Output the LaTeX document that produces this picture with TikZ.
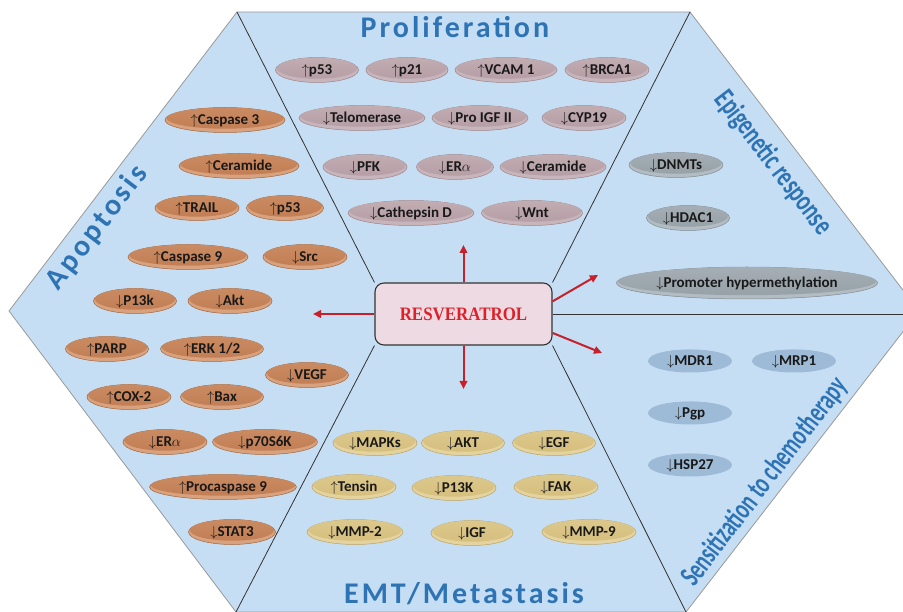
\documentclass[tikz,border=0pt]{standalone}
\usepackage{fontspec}
\usepackage{graphicx}
\setmainfont{Carlito}
\newfontfamily\titlefont[LetterSpace=10]{Carlito}
\newfontfamily\condfont[FakeStretch=0.7]{Carlito}
\newfontfamily\condfontb[FakeStretch=0.67]{Carlito}
\newfontfamily\resfont{Liberation Serif}
\usetikzlibrary{arrows.meta,shapes.geometric,calc,backgrounds}
\definecolor{hexblue}{HTML}{C6DEF3}
\definecolor{titleblue}{HTML}{2E74B5}
\definecolor{resred}{HTML}{E02028}
\definecolor{arrred}{HTML}{C8202A}
\definecolor{resfill}{HTML}{EDDAE3}
% proliferation
\definecolor{prolM}{HTML}{B59EA5}
\definecolor{prolT}{HTML}{C2ADB3}
\definecolor{prolL}{HTML}{C8B5BB}
\definecolor{prolD}{HTML}{9C848B}
% apoptosis
\definecolor{apoM}{HTML}{C27E54}
\definecolor{apoT}{HTML}{CA8B62}
\definecolor{apoL}{HTML}{D9A27E}
\definecolor{apoD}{HTML}{A3663E}
% emt
\definecolor{emtM}{HTML}{D6BF7E}
\definecolor{emtT}{HTML}{DCC88C}
\definecolor{emtL}{HTML}{E4D39E}
\definecolor{emtD}{HTML}{BBA363}
% epigenetic
\definecolor{epiM}{HTML}{97A1A8}
\definecolor{epiT}{HTML}{A4AEB4}
\definecolor{epiL}{HTML}{B3BCC2}
\definecolor{epiD}{HTML}{808B93}
% sensitization
\definecolor{sensM}{HTML}{9DBAD7}
\tikzset{
  pillbase/.style={ellipse, inner sep=0pt},
  prolrim/.style={pillbase, fill=prolL, draw=prolD, line width=0.5pt},
  proltop/.style={pillbase, top color=prolT, bottom color=prolM},
  aporim/.style={pillbase, fill=apoL, draw=apoD, line width=0.5pt},
  apotop/.style={pillbase, top color=apoT, bottom color=apoM},
  emtrim/.style={pillbase, fill=emtL, draw=emtD, line width=0.5pt},
  emttop/.style={pillbase, top color=emtT, bottom color=emtM},
  epirim/.style={pillbase, fill=epiL, draw=epiD, line width=0.5pt},
  epitop/.style={pillbase, top color=epiT, bottom color=epiM},
  sensrim/.style={pillbase, fill=sensM},
  senstop/.style={pillbase, fill=sensM},
  pilltext/.style={inner sep=0pt, text=black!90, font=\fontsize{15}{15}\selectfont\bfseries},
  hexshape/.style={fill=hexblue, draw=gray!80, line width=0.8pt},
  divider/.style={draw=black!80, line width=0.8pt},
  resbox/.style={rectangle, rounded corners=9pt, fill=resfill, draw=black!80, line width=1.1pt,
     minimum width=177pt, minimum height=62pt, text=resred},
  redarrow/.style={draw=arrred, line width=2pt, -{Triangle[length=8pt,width=7.5pt]}},
  maintitle/.style={inner sep=0pt, text=titleblue, font=\titlefont\bfseries\fontsize{30}{30}\selectfont},
  sidetitle/.style={inner sep=0pt, text=titleblue},
}
\newcommand{\pill}[7][25]{%
  \node[#6rim, minimum width=#5, minimum height=#1] (#2) at (#3,#4) {};
  \node[#6top, minimum width=#5-3, minimum height=#1-4] (#2f) at (#3,#4-1.8) {};
  \node[pilltext, anchor=base] (#2t) at (#3,#4+4.6) {#7};
}
\newcommand{\up}{$\uparrow$}
\newcommand{\dn}{$\downarrow$}
\begin{document}
\begin{tikzpicture}[x=1pt,y=-1pt]
\useasboundingbox (0,0) rectangle (903,612);
\clip (0,0) rectangle (903,612);
\coordinate (hL) at (9,311);
\coordinate (hTL) at (237,12);
\coordinate (hTR) at (690,12);
\coordinate (hR) at (919,311);
\coordinate (hBR) at (686,612);
\coordinate (hBL) at (236,612);

\node[resbox] (res) at (463.5,314) {\resfont\bfseries\fontsize{19}{19}\selectfont\scalebox{0.89}[1]{RESVERATROL}};

\begin{pgfonlayer}{background}
\filldraw[hexshape] (hL) -- (hTL) -- (hTR) -- (hR) -- (hBR) -- (hBL) -- cycle;
\draw[divider] (res.north west) -- (hTL);
\draw[divider] (res.north east) -- (hTR);
\draw[divider] (res.south west) -- (hBL);
\draw[divider] (res.south east) -- (hBR);
\draw[divider] (res.east) -- (res.east -| hR);
\end{pgfonlayer}

% arrows
\coordinate (aU) at (463.5,245);
\coordinate (aD) at (463.5,389);
\coordinate (aL) at (313,314);
\coordinate (aRU) at (598,275);
\coordinate (aRD) at (602,353);
\coordinate (sRU) at ($(res.north east)!0.3!(res.south east)$);
\coordinate (sRD) at ($(res.north east)!0.8!(res.south east)$);
\draw[redarrow] (res.north) -- (aU);
\draw[redarrow] (res.south) -- (aD);
\draw[redarrow] (res.west) -- (aL);
\draw[redarrow] (sRU) -- (aRU);
\draw[redarrow] (sRD) -- (aRD);

% titles
\node[maintitle, anchor=base] (tProl) at (455,38) {Proliferation};
\node[maintitle, anchor=base] (tEmt) at (464,603) {EMT/Metastasis};
\node[maintitle, rotate=52.7] (tApo) at (97,228) {Apoptosis};
\node[sidetitle, rotate=-52.5, font=\condfont\bfseries\fontsize{30}{30}\selectfont] (tEpi) at (773,163) {Epigenetic response};
\node[sidetitle, rotate=52.5, font=\condfontb\bfseries\fontsize{30}{30}\selectfont] (tSen) at (765,482) {Sensitization to chemotherapy};

% proliferation
\pill{p1}{317}{70}{83}{prol}{\up p53}
\pill{p2}{407}{70}{82}{prol}{\up p21}
\pill{p3}{506}{70}{102}{prol}{\up VCAM 1}
\pill{p4}{607}{70}{84}{prol}{\up BRCA1}
\pill{p5}{362}{118}{126}{prol}{\dn Telomerase}
\pill{p6}{480}{118}{96}{prol}{\dn Pro IGF II}
\pill{p7}{584}{118}{84}{prol}{\dn CYP19}
\pill{p8}{365}{167}{84}{prol}{\dn PFK}
\pill{p9}{455}{167}{77}{prol}{\dn ER$\alpha$}
\pill{p10}{553}{167}{106}{prol}{\dn Ceramide}
\pill{p11}{411}{213}{126}{prol}{\dn Cathepsin D}
\pill{p12}{532}{213}{101}{prol}{\dn Wnt}

% apoptosis
\pill{a1}{225}{120}{120}{apo}{\up Caspase 3}
\pill{a2}{239}{166}{120}{apo}{\up Ceramide}
\pill{a3}{197}{208}{84}{apo}{\up TRAIL}
\pill{a4}{285}{208}{77}{apo}{\up p53}
\pill{a5}{188}{257}{120}{apo}{\up Caspase 9}
\pill{a6}{305}{257}{84}{apo}{\dn Src}
\pill{a7}{135}{301}{83}{apo}{\dn P13k}
\pill{a8}{230}{301}{84}{apo}{\dn Akt}
\pill{a9}{107}{349}{83}{apo}{\up PARP}
\pill{a10}{212}{349}{103}{apo}{\up ERK 1/2}
\pill{a11}{307}{375}{83}{apo}{\dn VEGF}
\pill{a12}{129}{397}{84}{apo}{\up COX-2}
\pill{a13}{222}{397}{83}{apo}{\up Bax}
\pill{a14}{165}{442}{84}{apo}{\dn ER$\alpha$}
\pill{a15}{265}{442}{105}{apo}{\dn p70S6K}
\pill{a16}{223}{487}{147}{apo}{\up Procaspase 9}
\pill{a17}{232}{532}{87}{apo}{\dn STAT3}

% EMT
\pill{e1}{375}{443}{84}{emt}{\dn MAPKs}
\pill{e2}{463}{443}{83}{emt}{\dn AKT}
\pill{e3}{554}{443}{83}{emt}{\dn EGF}
\pill{e4}{354}{487}{84}{emt}{\up Tensin}
\pill{e5}{454}{488}{84}{emt}{\dn P13K}
\pill{e6}{556}{487}{84}{emt}{\dn FAK}
\pill{e7}{355}{532}{96}{emt}{\dn MMP-2}
\pill{e8}{472}{533}{82}{emt}{\dn IGF}
\pill{e9}{589}{532}{94}{emt}{\dn MMP-9}

% epigenetic
\pill{g1}{676}{165}{94}{epi}{\dn DNMTs}
\pill{g2}{688}{218}{83}{epi}{\dn HDAC1}
\pill[32]{g3}{747}{283}{261}{epi}{\dn Promoter hypermethylation}

% sensitization
\pill[23]{s1}{690}{361}{84}{sens}{\dn MDR1}
\pill[23]{s2}{794}{361}{84}{sens}{\dn MRP1}
\pill[23]{s3}{690}{413}{84}{sens}{\dn Pgp}
\pill[23]{s4}{690}{465}{84}{sens}{\dn HSP27}
\end{tikzpicture}
\end{document}
